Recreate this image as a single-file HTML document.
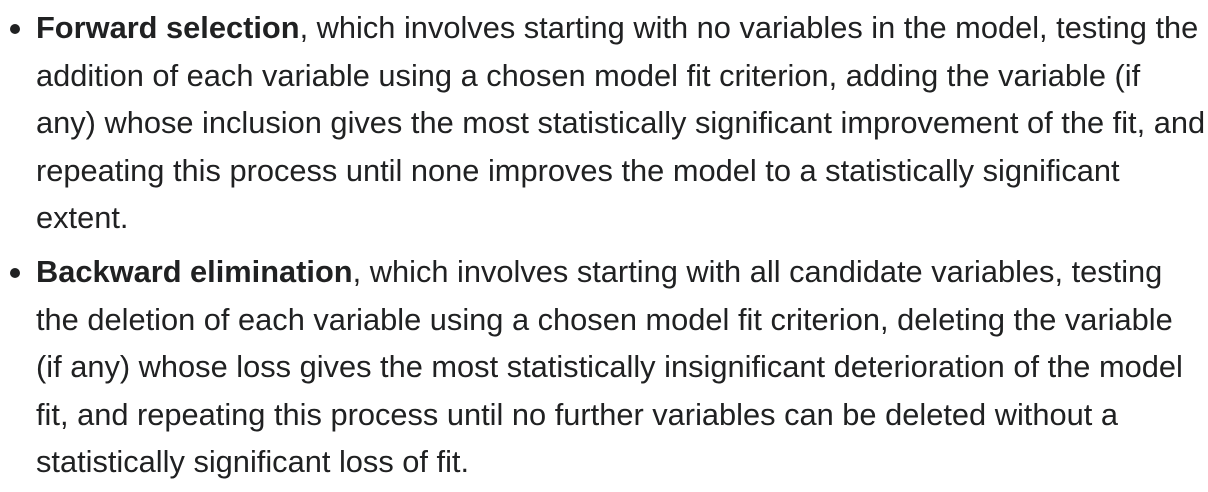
<!DOCTYPE html>
<html><head><meta charset="utf-8"><style>
html,body{margin:0;padding:0;background:#fff;width:1208px;height:488px;overflow:hidden}
body{font-family:"Liberation Sans",Arial,sans-serif;font-size:30.8px;color:#202122;line-height:47.6px}
ul{margin:0;padding:0;list-style:none;position:absolute;left:0;top:4px}
li{position:relative;padding-left:36px;white-space:nowrap;margin-bottom:6px}
li::before{content:"";position:absolute;left:10px;top:20px;width:10px;height:10px;border-radius:50%;background:#202122}
b{font-weight:bold}
</style></head><body>
<ul>
<li><b>Forward selection</b>, which involves starting with no variables in the model, testing the<br>addition of each variable using a chosen model fit criterion, adding the variable (if<br>any) whose inclusion gives the most statistically significant improvement of the fit, and<br>repeating this process until none improves the model to a statistically significant<br>extent.</li>
<li><b>Backward elimination</b>, which involves starting with all candidate variables, testing<br>the deletion of each variable using a chosen model fit criterion, deleting the variable<br>(if any) whose loss gives the most statistically insignificant deterioration of the model<br>fit, and repeating this process until no further variables can be deleted without a<br>statistically significant loss of fit.</li>
</ul>
</body></html>
